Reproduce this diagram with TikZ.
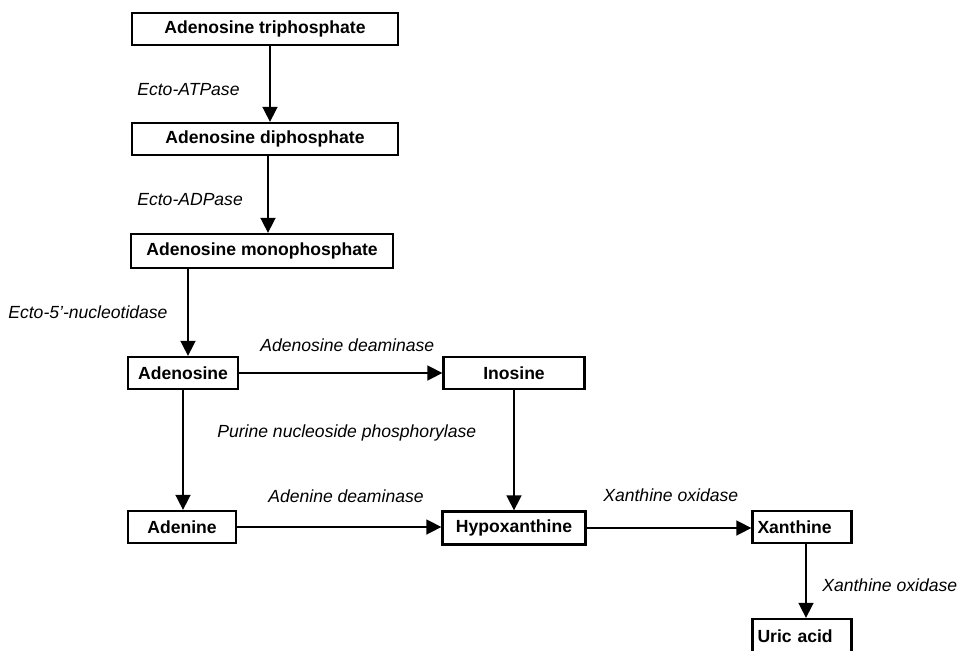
\documentclass[tikz,border=0pt]{standalone}
\usepackage{fontspec}
\setmainfont{Liberation Sans}
\usetikzlibrary{arrows.meta}
\tikzset{
	box/.style={draw,line width=1.3pt,inner sep=0pt,font=\fontsize{10}{12}\selectfont\bfseries},
	flow/.style={line width=0.9pt,-{Triangle[length=0.3cm,width=0.3cm]}},
	enzyme/.style={anchor=west,inner sep=0pt,font=\fontsize{10}{12}\selectfont\itshape}
}
\begin{document}
\begin{tikzpicture}[x=0.02cm,y=-0.02cm]
	\useasboundingbox (0,0) rectangle (958,650);
	% substrates
	\node[box,minimum width=266*0.02cm,minimum height=32*0.02cm] (atp) at (265,29) {Adenosine triphosphate};
	\node[box,minimum width=266*0.02cm,minimum height=32*0.02cm] (adp) at (265,139) {Adenosine diphosphate};
	\node[box,minimum width=262*0.02cm,minimum height=34*0.02cm] (amp) at (262,251) {Adenosine monophosphate};
	\node[box,minimum width=110*0.02cm,minimum height=32*0.02cm] (ado) at (183,373) {Adenosine};
	\node[box,minimum width=141*0.02cm,minimum height=32*0.02cm] (ino) at (514,373) {Inosine};
	\node[box,minimum width=108*0.02cm,minimum height=32*0.02cm] (ade) at (182,527) {Adenine};
	\node[box,minimum width=143*0.02cm,minimum height=33*0.02cm] (hyp) at (514,528) {Hypoxanthine};
	\node[box,text width=89*0.02cm,inner xsep=5*0.02cm,minimum height=32*0.02cm] (xan) at (802,527) {Xanthine};
	\node[box,text width=89*0.02cm,inner xsep=5*0.02cm,minimum height=34*0.02cm] (uric) at (802,636) {Uric acid};
	
	% enzymes
	\node[enzyme] (atpase) at (137,90) {Ecto-ATPase};
	\node[enzyme] (adpase) at (137,200) {Ecto-ADPase};
	\node[enzyme] (nucl) at (8,312) {Ecto-5'-nucleotidase};
	\node[enzyme] (ada) at (260,345) {Adenosine deaminase};
	\node[enzyme] (pnp) at (217,433) {Purine nucleoside phosphorylase};
	\node[enzyme] (adeda) at (268,496) {Adenine deaminase};
	\node[enzyme] (xo1) at (603,495) {Xanthine oxidase};
	\node[enzyme] (xo2) at (822,585) {Xanthine oxidase};
	
	\draw[flow] ([xshift=5*0.02cm]atp.south) -- ([xshift=5*0.02cm]adp.north);
	\draw[flow] ([xshift=3*0.02cm]adp.south) -- ([xshift=6*0.02cm]amp.north);
	\draw[flow] ([xshift=5*0.02cm]amp.south -| ado.north) -- ([xshift=5*0.02cm]ado.north);
	\draw[flow] (ado.east) -- (ino.west);
	\draw[flow] (ado.south) -- (ado.south |- ade.north);
	\draw[flow] (ino.south) -- (hyp.north);
	\draw[flow] (ade.east) -- (ade.east -| hyp.west);
	\draw[flow] (hyp.east) -- (hyp.east -| xan.west);
	\draw[flow] ([xshift=4*0.02cm]xan.south) -- ([xshift=4*0.02cm]uric.north);
\end{tikzpicture}
\end{document}
